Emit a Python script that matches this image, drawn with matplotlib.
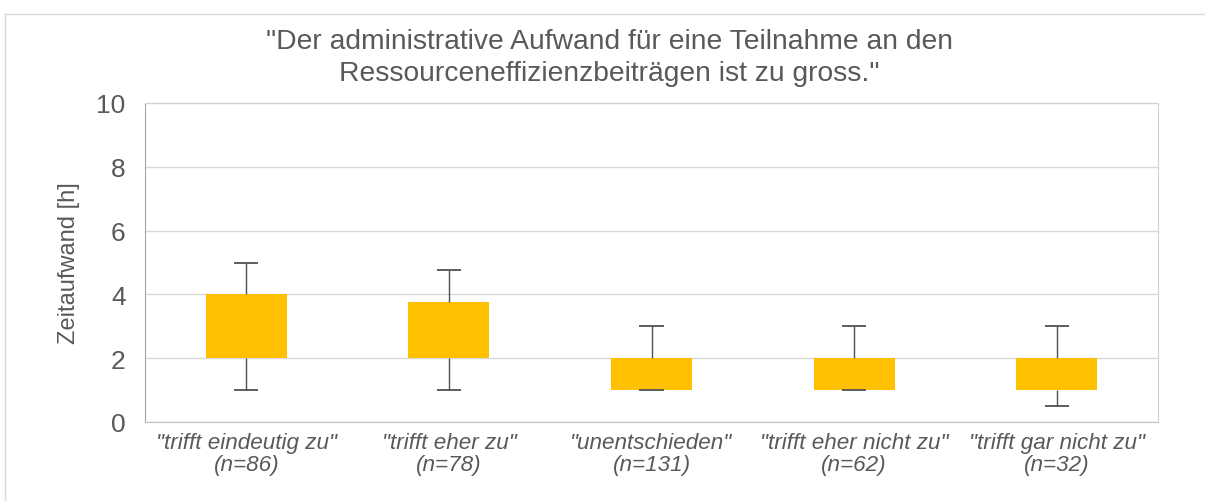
import numpy as np
import matplotlib
matplotlib.use("Agg")
import matplotlib.pyplot as plt
from matplotlib.lines import Line2D

# antworten und statistik (h)
categories = ['"trifft eindeutig zu"\n(n=86)', '"trifft eher zu"\n(n=78)',
              '"unentschieden"\n(n=131)', '"trifft eher nicht zu"\n(n=62)',
              '"trifft gar nicht zu"\n(n=32)']
q1 = [2, 2, 1, 1, 1]
q3 = [4, 3.75, 2, 2, 2]
lo = [1, 1, 1, 1, 0.5]
hi = [5, 4.75, 3, 3, 3]

plt.rcParams['font.family'] = ['Liberation Sans', 'DejaVu Sans']

fig = plt.figure(figsize=(12.05, 5.02), dpi=100)
ax = fig.add_axes([145 / 1205, 1 - 423 / 502, (1158 - 145) / 1205, (423 - 104) / 502])

x = np.arange(len(categories))
ax.bar(x, np.array(q3) - np.array(q1), bottom=q1, width=0.4, color='#FFC000', zorder=2)

# whisker
ax.vlines(x, q3, hi, color='#505050', lw=1.0, zorder=3)
ax.vlines(x, lo, q1, color='#505050', lw=1.0, zorder=3)
ax.hlines(hi, x - 0.06, x + 0.06, color='#505050', lw=1.3, zorder=3)
ax.hlines(lo, x - 0.06, x + 0.06, color='#505050', lw=1.3, zorder=3)

ax.set_xlim(-0.5, 4.5)
ax.set_ylim(0, 10)
ax.set_yticks(range(0, 11, 2))
ax.set_xticks(x)
ax.set_xticklabels(categories, fontsize=16.2, style='italic', color='#595959', linespacing=1.1)
ax.tick_params(axis='y', labelsize=19, colors='#595959', length=0, pad=14)
ax.tick_params(axis='x', length=0, pad=7)
ax.yaxis.grid(True, color='#D9D9D9', lw=1, zorder=0)
ax.set_axisbelow(True)
for s in ax.spines.values():
    s.set_color('#D0D0D0')
ax.spines['left'].set_color('#A6A6A6')
ax.spines['bottom'].set_color('#BFBFBF')

ax.set_ylabel('Zeitaufwand [h]', fontsize=17, color='#595959', labelpad=12)

fig.text(0.506, 1 - 42 / 502, '"Der administrative Aufwand für eine Teilnahme an den',
         ha='center', va='center', fontsize=20.3, color='#595959')
fig.text(0.506, 1 - 74 / 502, 'Ressourceneffizienzbeiträgen ist zu gross."',
         ha='center', va='center', fontsize=20.3, color='#595959')

# rahmen
fig.add_artist(Line2D([5 / 1205, 1], [1 - 15 / 502] * 2, color='#D9D9D9', lw=1))
fig.add_artist(Line2D([5 / 1205] * 2, [0, 1 - 15 / 502], color='#D9D9D9', lw=1))

fig.savefig('out.png', dpi=100)
